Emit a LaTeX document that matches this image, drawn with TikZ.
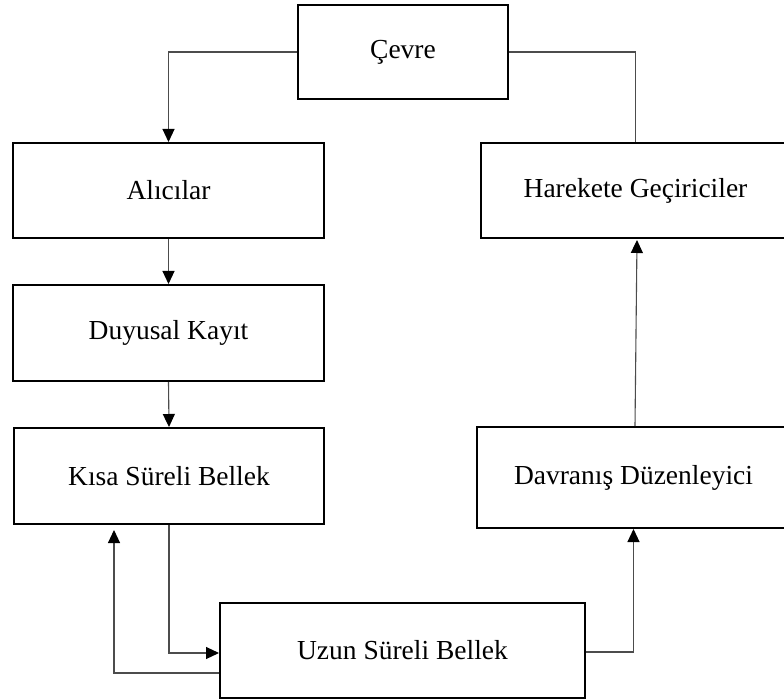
\documentclass[tikz,border=0pt]{standalone}
\usepackage{fontspec}
\setmainfont{Liberation Serif}
\usetikzlibrary{arrows.meta}
\begin{document}
\begin{tikzpicture}[x=1pt,y=-1pt,
  box/.style={draw=black,line width=2pt,fill=white,rectangle,inner sep=0pt,
    font=\fontsize{27.5}{33}\selectfont},
  conn/.style={draw=black!70,line width=1.1pt},
  arr/.style={conn,-{Triangle[width=12pt,length=13pt,black]}}]
\useasboundingbox (0,0) rectangle (784,700);
\clip (0,0) rectangle (784,700);
\fill[white] (0,0) rectangle (784,700);
\node[box,minimum width=210pt,minimum height=94pt] (cevre) at (403,52) {Çevre};
\node[box,minimum width=311pt,minimum height=95pt] (alici) at (168.5,190.5) {Alıcılar};
\node[box,minimum width=311pt,minimum height=96pt] (duyu) at (168.5,333) {Duyusal Kayıt};
\node[box,minimum width=310pt,minimum height=96pt] (kisa) at (169,476) {Kısa Süreli Bellek};
\node[box,minimum width=309pt,minimum height=95pt] (hare) at (635.5,190.5) {Harekete Geçiriciler};
\node[box,minimum width=313pt,minimum height=101pt] (davr) at (633.5,477.5) {Davranış Düzenleyici};
\node[box,minimum width=365pt,minimum height=95pt] (uzun) at (402.5,650.5) {Uzun Süreli Bellek};
\draw[arr] (cevre.west) -| (alici.north);
\draw[conn] (hare.north) |- (cevre.east);
\draw[arr] (alici.south) -- (duyu.north);
\draw[arr] (duyu.south) -- (kisa.north);
\draw[arr] (kisa.south) |- ([yshift=-2.5pt]uzun.west);
\draw[arr] ([yshift=-22.5pt]uzun.west) -| ([xshift=-55pt,yshift=-5pt]kisa.south);
\draw[arr] ([yshift=-1.5pt]uzun.east) -| (davr.south);
\draw[arr] ([xshift=1.5pt]davr.north) -- ([xshift=1.5pt,yshift=-1pt]hare.south);
\end{tikzpicture}
\end{document}
